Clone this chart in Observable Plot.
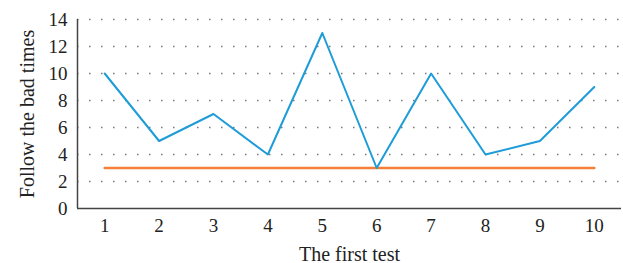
<!DOCTYPE html>
<html>
<head>
<meta charset="utf-8">
<script src="https://cdn.jsdelivr.net/npm/d3@7"></script>
<script src="https://cdn.jsdelivr.net/npm/@observablehq/plot@0.6"></script>
<style>
  html, body { margin: 0; padding: 0; background: #fff; }
  #chart svg { display: block; }
  #chart svg g[aria-label="x-axis label"] text,
  #chart svg g[aria-label="y-axis label"] text { font-size: 20px; }
</style>
</head>
<body>
<div id="chart"></div>
<script>
const tests = [1, 2, 3, 4, 5, 6, 7, 8, 9, 10];
const badTimes = [10, 5, 7, 4, 13, 3, 10, 4, 5, 9];
const baseline = [3, 3, 3, 3, 3, 3, 3, 3, 3, 3];
const yTicks = [0, 2, 4, 6, 8, 10, 12, 14];

const blueData = tests.map((t, i) => ({x: t, y: badTimes[i]}));
const orangeData = tests.map((t, i) => ({x: t, y: baseline[i]}));

const chart = Plot.plot({
  width: 623,
  height: 263,
  marginLeft: 77,
  marginRight: 2,
  marginTop: 19,
  marginBottom: 55,
  style: {fontFamily: "'Liberation Serif', 'Times New Roman', serif", fontSize: "19px", color: "#222", background: "#fff"},
  x: {domain: [0.5, 10.5], ticks: tests, tickSize: 0, tickPadding: 10, tickFormat: d => String(d), label: "The first test", labelArrow: "none", labelAnchor: "center", labelOffset: 52},
  y: {domain: [0, 14], ticks: yTicks, tickSize: 0, tickPadding: 10, label: "Follow the bad times", labelArrow: "none", labelAnchor: "center", labelOffset: 58},
  marks: [
    Plot.gridY(yTicks.filter(d => d > 0), {stroke: "#777", strokeOpacity: 1, strokeWidth: 1.5, strokeDasharray: "1.5,10.5"}),
    Plot.ruleY([0], {stroke: "#444", strokeWidth: 1.5}),
    Plot.ruleX([0.5], {y1: 0, y2: 14, stroke: "#444", strokeWidth: 1.5}),
    Plot.line(orangeData, {x: "x", y: "y", stroke: "#f47f35", strokeWidth: 2.5}),
    Plot.line(blueData, {x: "x", y: "y", stroke: "#1e9cd7", strokeWidth: 2})
  ]
});
document.getElementById("chart").appendChild(chart);
</script>
</body>
</html>
